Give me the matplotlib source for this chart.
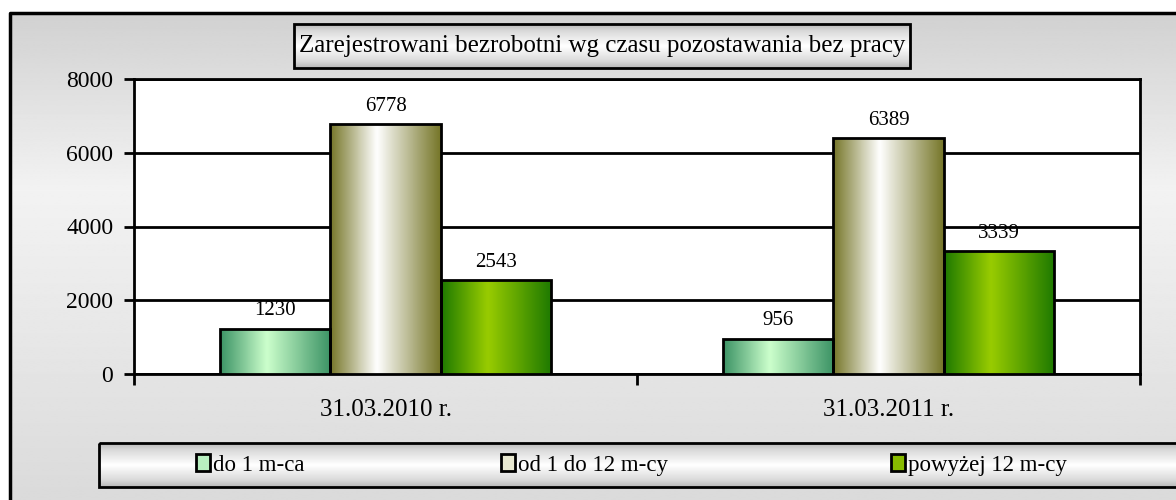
import matplotlib
matplotlib.use("Agg")
import matplotlib.pyplot as plt
import numpy as np
from matplotlib.colors import LinearSegmentedColormap
from matplotlib.lines import Line2D
from matplotlib.patches import Rectangle

plt.rcParams.update({"font.family": ["Liberation Serif", "DejaVu Serif"]})

categories = ["31.03.2010 r.", "31.03.2011 r."]
series = ["do 1 m-ca", "od 1 do 12 m-cy", "powyżej 12 m-cy"]
do_1 = [1230, 956]
od_1_do_12 = [6778, 6389]
powyzej_12 = [2543, 3339]
values = [do_1, od_1_do_12, powyzej_12]
yticks = [0, 2000, 4000, 6000, 8000]

# cylinder look: dark edge -> light centre -> dark edge
EDGE = ["#3d9466", "#77772a", "#1f7a00"]
MID = ["#ccffcc", "#ffffff", "#99cc00"]
LEG = ["#b8efc0", "#e8e8d0", "#88bb00"]
cmaps = [LinearSegmentedColormap.from_list(f"s{i}", [(0, e), (0.42, m), (1, e)])
         for i, (e, m) in enumerate(zip(EDGE, MID))]

W, H = 1176, 500
fig = plt.figure(figsize=(W / 100, H / 100), dpi=100, facecolor="white")

# background layer in pixel coordinates
bg = fig.add_axes([0, 0, 1, 1], zorder=-10)
bg.set_xlim(0, W); bg.set_ylim(H, 0); bg.axis("off")
vert = np.interp(np.linspace(13, 520, 300), [13, 190, 520], [0.82, 0.95, 0.85])
bg.imshow(np.tile(vert[:, None], (1, 2)), cmap="gray", vmin=0, vmax=1,
          extent=(10, 1200, 520, 13), aspect="auto", interpolation="bilinear")
bg.add_line(Line2D([10, 10, 1200], [520, 13, 13], color="black", lw=2.5))

box = np.interp(np.linspace(0, 1, 100), [0, 0.15, 0.5, 0.85, 1], [0.72, 0.85, 1.0, 0.85, 0.72])
box_img = np.tile(box[:, None], (1, 2))
# title box
bg.imshow(box_img, cmap="gray", vmin=0, vmax=1, extent=(294, 910, 68, 24),
          aspect="auto", interpolation="bilinear")
bg.add_patch(Rectangle((294, 24), 616, 44, fill=False, ec="black", lw=2))
bg.text(602, 46, "Zarejestrowani bezrobotni wg czasu pozostawania bez pracy",
        ha="center", va="center", fontsize=18)
# legend box
bg.imshow(box_img, cmap="gray", vmin=0, vmax=1, extent=(99, 1200, 487, 443),
          aspect="auto", interpolation="bilinear")
bg.add_patch(Rectangle((99, 443), 1101, 44, fill=False, ec="black", lw=2))

ax = fig.add_axes([134 / W, 1 - 374 / H, 1006 / W, 295 / H])
ax.set_facecolor("white")
x = np.arange(len(categories))
bw = 0.22
grad = np.linspace(0, 1, 64)[None, :]
for i, (vals, cm) in enumerate(zip(values, cmaps)):
    bars = ax.bar(x + (i - 1) * bw, vals, bw, facecolor="none", edgecolor="black",
                  lw=2, zorder=4)
    for p, v in zip(bars, vals):
        im = ax.imshow(grad, cmap=cm, aspect="auto", interpolation="bilinear",
                       extent=(p.get_x(), p.get_x() + p.get_width(), 0, p.get_height()),
                       zorder=3)
        im.set_clip_path(p)
        ax.annotate(f"{v}", (p.get_x() + p.get_width() / 2, v), xytext=(0, 6),
                    textcoords="offset points", ha="center", va="bottom", fontsize=15,
                    zorder=2)

ax.set_xlim(-0.5, 1.5)
ax.set_ylim(0, 8000)
ax.set_yticks(yticks)
ax.set_yticklabels([str(t) for t in yticks], fontsize=17)
ax.set_xticks(x)
ax.set_xticklabels(categories, fontsize=18)
ax.set_xticks([-0.5, 0.5, 1.5], minor=True)
ax.tick_params(axis="x", which="major", length=0, pad=18)
ax.tick_params(axis="x", which="minor", length=8, width=2, direction="out")
ax.tick_params(axis="y", length=7, width=2, direction="out", pad=8)
ax.yaxis.grid(True, color="black", lw=2)
ax.set_axisbelow(True)
for s in ax.spines.values():
    s.set_color("black"); s.set_linewidth(2)

# one legend entry per series, placed where the reference has them
leg_x = [196, 501, 891]
for lx, name, c in zip(leg_x, series, LEG):
    h = Rectangle((0, 0), 1, 1, fc=c, ec="black", lw=2)
    fig.legend([h], [name], loc="center left", bbox_to_anchor=(lx / W, 1 - 465 / H),
               frameon=False, fontsize=16.5, handlelength=0.6, handleheight=0.7,
               handletextpad=0.15, borderaxespad=0, borderpad=0)

fig.savefig("out.png", dpi=100, facecolor="white")
